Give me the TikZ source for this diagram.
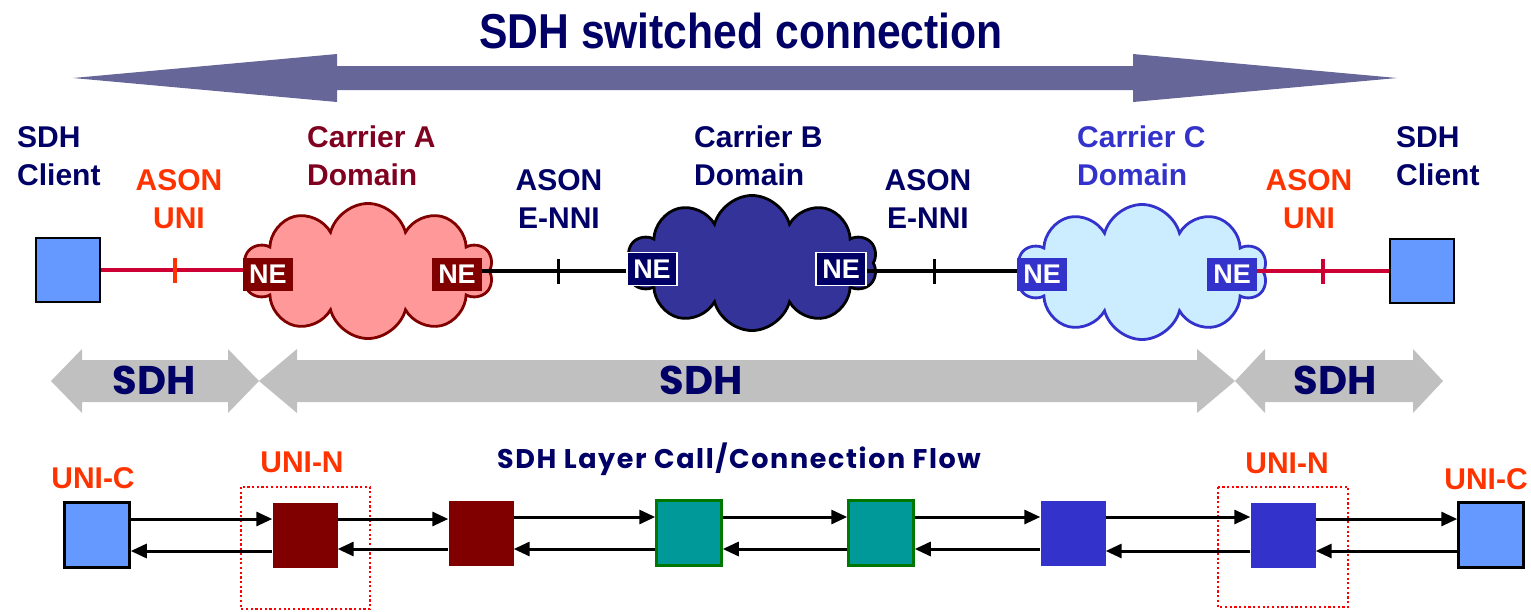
\documentclass[tikz,border=0pt]{standalone}
\usepackage{fontspec}
\setmainfont{Liberation Sans}
\newfontfamily\titlefont[FakeStretch=0.87]{Liberation Sans}
\newfontfamily\geofont{Poppins}
\newfontfamily\flowfont[LetterSpace=6]{Poppins}
\usetikzlibrary{shapes.symbols,arrows.meta}

\definecolor{navy}{RGB}{0,0,102}
\definecolor{slate}{RGB}{102,102,153}
\definecolor{asonred}{RGB}{255,51,0}
\definecolor{unired}{RGB}{204,0,51}
\definecolor{carrierA}{RGB}{128,0,32}
\definecolor{maroon}{RGB}{128,0,0}
\definecolor{pinkfill}{RGB}{255,153,153}
\definecolor{carrierB}{RGB}{51,51,153}
\definecolor{carrierC}{RGB}{51,51,204}
\definecolor{skyfill}{RGB}{204,236,255}
\definecolor{clientblue}{RGB}{102,153,255}
\definecolor{sdhgrey}{RGB}{192,192,192}
\definecolor{tealfill}{RGB}{0,153,153}
\definecolor{tealline}{RGB}{0,119,0}

\tikzset{
  txtlabel/.style={inner sep=0pt, font=\fontsize{30}{38}\selectfont\bfseries},
  client/.style={draw=black, line width=2.5pt, fill=clientblue, minimum size=64pt, inner sep=0pt},
  carrierdomain/.style={cloud, cloud puffs=10, cloud ignores aspect, minimum width=250pt,
    minimum height=135pt, line width=2.8pt, draw},
  ne/.style={minimum width=50pt, minimum height=33pt, inner sep=0pt, text=white,
    font=\fontsize{27}{27}\selectfont\bfseries},
  uniline/.style={draw=unired, line width=4pt},
  nniline/.style={draw=black, line width=4pt},
  tickmark/.style={inner sep=0pt, minimum width=3.5pt, minimum height=25pt},
  flowbox/.style={minimum size=65pt, inner sep=0pt},
  flow/.style={line width=3pt, -{Triangle[length=16pt,width=14pt]}},
  unibox/.style={draw=red, line width=2.2pt, dash pattern=on 2.2pt off 2.5pt}
}

\begin{document}
\begin{tikzpicture}[x=1pt, y=-1pt]
  \useasboundingbox (0,0) rectangle (1531,611);

  % switched connection
  \node[font=\titlefont\fontsize{49}{49}\selectfont\bfseries, text=navy, inner sep=0pt]
    (title) at (741,31) {SDH switched connection};
  \fill[slate] (73,78) -- (337,54) -- (337,66) -- (1133,66) -- (1133,54) -- (1397,78)
    -- (1133,102) -- (1133,90) -- (337,90) -- (337,102) -- cycle;

  % labels
  \node[txtlabel, text=navy, anchor=north west, align=left] (clientLtxt) at (17,126) {SDH\\Client};
  \node[txtlabel, text=asonred, anchor=north, align=center] (uniLtxt) at (179,169) {ASON\\UNI};
  \node[txtlabel, text=carrierA, anchor=north west, align=left] (carrAtxt) at (307,126) {Carrier A\\Domain};
  \node[txtlabel, text=navy, anchor=north, align=center] (nniLtxt) at (559,169) {ASON\\E-NNI};
  \node[txtlabel, text=navy, anchor=north west, align=left] (carrBtxt) at (694,126) {Carrier B\\Domain};
  \node[txtlabel, text=navy, anchor=north, align=center] (nniRtxt) at (928,169) {ASON\\E-NNI};
  \node[txtlabel, text=carrierC, anchor=north west, align=left] (carrCtxt) at (1077,126) {Carrier C\\Domain};
  \node[txtlabel, text=asonred, anchor=north, align=center] (uniRtxt) at (1309,169) {ASON\\UNI};
  \node[txtlabel, text=navy, anchor=north west, align=left] (clientRtxt) at (1396,126) {SDH\\Client};

  % domains
  \node[carrierdomain, draw=maroon, fill=pinkfill] (cloudA) at (368,271) {};
  \node[carrierdomain, draw=black, fill=carrierB] (cloudB) at (752,263) {};
  \node[carrierdomain, draw=carrierC, fill=skyfill] (cloudC) at (1142,272) {};

  \node[client] (clientL) at (68,270) {};
  \node[client] (clientR) at (1422,271) {};

  \node[ne, fill=maroon] (neA1) at (268,274) {NE};
  \node[ne, fill=maroon] (neA2) at (457,274) {NE};
  \node[ne, fill=navy, draw=white, line width=1.5pt] (neB1) at (652,269) {NE};
  \node[ne, fill=navy, draw=white, line width=1.5pt] (neB2) at (841,269) {NE};
  \node[ne, fill=carrierC] (neC1) at (1042,274) {NE};
  \node[ne, fill=carrierC] (neC2) at (1232,274) {NE};

  \draw[uniline] (clientL.east) -- (neA1.west |- clientL.east)
    node[tickmark, pos=0.52, fill=asonred] {};
  \draw[nniline] (neA2.east |- 0,271) -- (neB1.west |- 0,271)
    node[tickmark, pos=0.53, fill=black] {};
  \draw[nniline] (neB2.east |- 0,271) -- (neC1.west |- 0,271)
    node[tickmark, pos=0.45, fill=black] {};
  \draw[uniline] (neC2.east |- clientR.west) -- (clientR.west)
    node[tickmark, pos=0.5, fill=unired] {};

  % SDH spans
  \fill[sdhgrey] (51,381) -- (82,349) -- (82,360) -- (228,360) -- (228,349) -- (259,381)
    -- (228,413) -- (228,402) -- (82,402) -- (82,413) -- cycle;
  \fill[sdhgrey] (259,381) -- (297,349) -- (297,360) -- (1197,360) -- (1197,349) -- (1235,381)
    -- (1197,413) -- (1197,402) -- (297,402) -- (297,413) -- cycle;
  \fill[sdhgrey] (1235,381) -- (1265,349) -- (1265,360) -- (1413,360) -- (1413,349) -- (1443,381)
    -- (1413,413) -- (1413,402) -- (1265,402) -- (1265,413) -- cycle;
  \node[font=\geofont\fontsize{40}{40}\selectfont\bfseries, text=navy, inner sep=0pt] (sdh1) at (154,380) {SDH};
  \node[font=\geofont\fontsize{40}{40}\selectfont\bfseries, text=navy, inner sep=0pt] (sdh2) at (701,380) {SDH};
  \node[font=\geofont\fontsize{40}{40}\selectfont\bfseries, text=navy, inner sep=0pt] (sdh3) at (1335,380) {SDH};

  % call / connection flow
  \node[font=\flowfont\fontsize{27}{27}\selectfont\bfseries, text=navy, inner sep=0pt, anchor=base]
    (flowtxt) at (739,468) {SDH Layer Call/Connection Flow};
  \node[txtlabel, text=asonred] (ucLtxt) at (93,478) {UNI-C};
  \node[txtlabel, text=asonred] (unLtxt) at (302,462) {UNI-N};
  \node[txtlabel, text=asonred] (unRtxt) at (1287,463) {UNI-N};
  \node[txtlabel, text=asonred] (ucRtxt) at (1486,479) {UNI-C};

  \draw[unibox] (241,487) rectangle (370,609);
  \draw[unibox] (1218,487) rectangle (1348,607);

  \node[flowbox, fill=clientblue, draw=black, line width=2.5pt] (f1) at (97,535) {};
  \node[flowbox, fill=maroon] (f2) at (305,535) {};
  \node[flowbox, fill=maroon] (f3) at (481,533) {};
  \node[flowbox, fill=tealfill, draw=tealline, line width=2.5pt] (f4) at (689,533) {};
  \node[flowbox, fill=tealfill, draw=tealline, line width=2.5pt] (f5) at (881,533) {};
  \node[flowbox, fill=carrierC] (f6) at (1073,533) {};
  \node[flowbox, fill=carrierC] (f7) at (1283,535) {};
  \node[flowbox, fill=clientblue, draw=black, line width=2.5pt] (f8) at (1491,535) {};

  \draw[flow] ([yshift=16pt]f1.east) -- ([yshift=16pt]f1.east -| f2.west);
  \draw[flow] ([yshift=-16pt]f2.west) -- ([yshift=-16pt]f2.west -| f1.east);
  \draw[flow] ([yshift=16pt]f2.east) -- ([yshift=16pt]f2.east -| f3.west);
  \draw[flow] ([yshift=-16pt]f3.west) -- ([yshift=-16pt]f3.west -| f2.east);
  \draw[flow] ([yshift=16pt]f3.east) -- ([yshift=16pt]f3.east -| f4.west);
  \draw[flow] ([yshift=-16pt]f4.west) -- ([yshift=-16pt]f4.west -| f3.east);
  \draw[flow] ([yshift=16pt]f4.east) -- ([yshift=16pt]f4.east -| f5.west);
  \draw[flow] ([yshift=-16pt]f5.west) -- ([yshift=-16pt]f5.west -| f4.east);
  \draw[flow] ([yshift=16pt]f5.east) -- ([yshift=16pt]f5.east -| f6.west);
  \draw[flow] ([yshift=-16pt]f6.west) -- ([yshift=-16pt]f6.west -| f5.east);
  \draw[flow] ([yshift=16pt]f6.east) -- ([yshift=16pt]f6.east -| f7.west);
  \draw[flow] ([yshift=-16pt]f7.west) -- ([yshift=-16pt]f7.west -| f6.east);
  \draw[flow] ([yshift=16pt]f7.east) -- ([yshift=16pt]f7.east -| f8.west);
  \draw[flow] ([yshift=-16pt]f8.west) -- ([yshift=-16pt]f8.west -| f7.east);
\end{tikzpicture}
\end{document}
